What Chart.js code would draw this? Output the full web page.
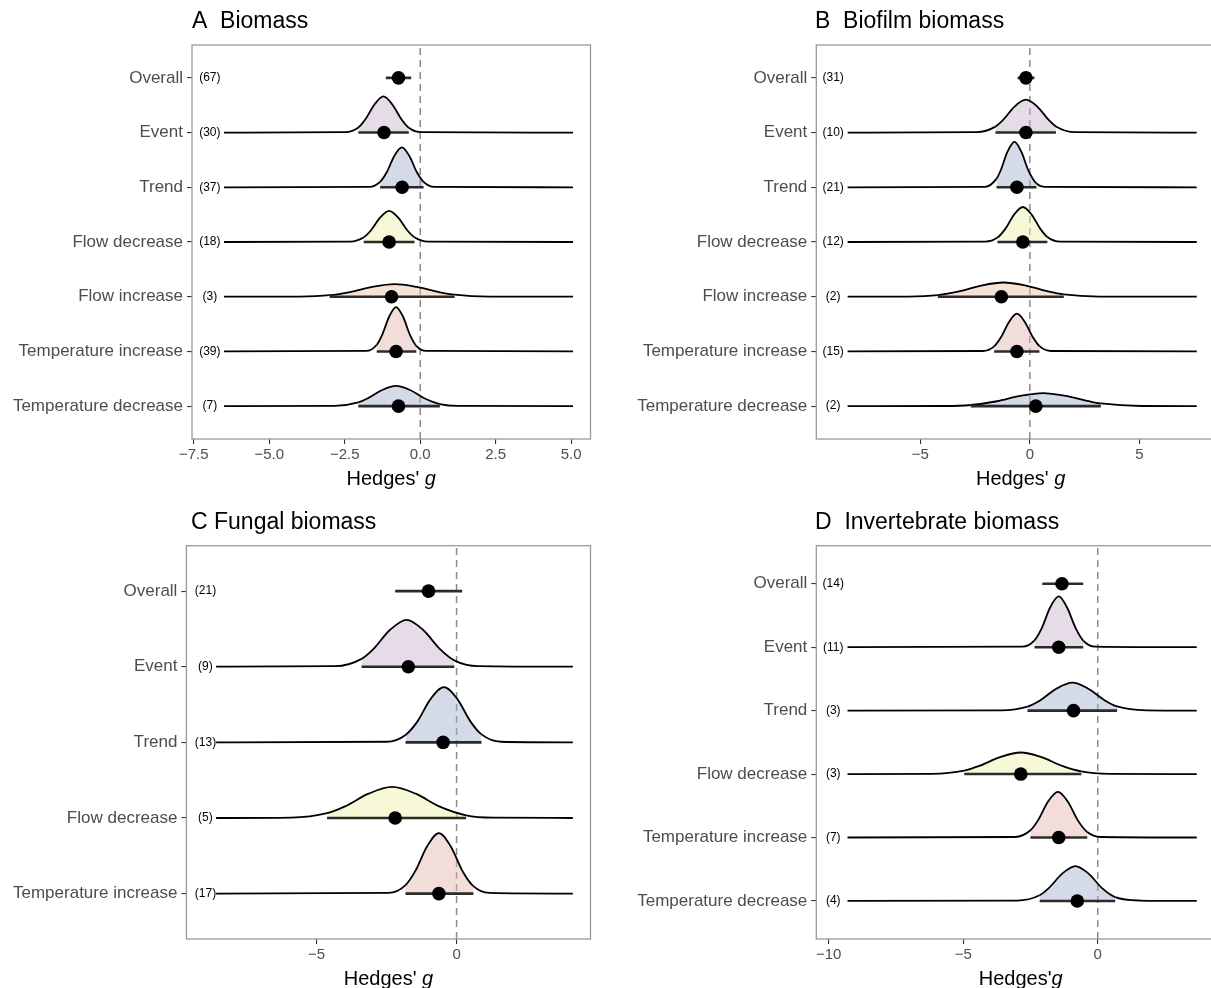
<!DOCTYPE html>
<html>
<head>
<meta charset="utf-8">
<script src="https://cdn.jsdelivr.net/npm/chart.js@4.4.1/dist/chart.umd.min.js"></script>
<style>
html, body { margin: 0; padding: 0; background: #fff; overflow: hidden; }
body { width: 1211px; height: 988px; position: relative; }
canvas { position: absolute; }
</style>
</head>
<body>
<canvas id="chartA" width="600" height="490" style="left:0px;top:0px"></canvas>
<canvas id="chartB" width="640" height="490" style="left:600px;top:0px"></canvas>
<canvas id="chartC" width="600" height="493" style="left:0px;top:495px"></canvas>
<canvas id="chartD" width="640" height="493" style="left:600px;top:495px"></canvas>
<script>
// ---- A Biomass ----
const catsA = ['Overall', 'Event', 'Trend', 'Flow decrease', 'Flow increase', 'Temperature increase', 'Temperature decrease'];
const countsA = [67, 30, 37, 18, 3, 39, 7];
const meanA = [-0.72, -1.2, -0.6, -1.03, -0.95, -0.8, -0.72];
const loA = [-1.14, -2.05, -1.33, -1.87, -3.0, -1.44, -2.05];
const hiA = [-0.3, -0.38, 0.11, -0.19, 1.14, -0.13, 0.65];
const densXA = [null,
  [-6.5, -2.48, -2.05, -1.81, -1.51, -1.22, -0.93, -0.63, -0.38, 0.04, 5.06],
  [-6.5, -1.69, -1.33, -1.11, -0.86, -0.61, -0.36, -0.11, 0.11, 0.47, 5.06],
  [-6.5, -2.32, -1.87, -1.63, -1.33, -1.03, -0.73, -0.43, -0.19, 0.26, 5.06],
  [-6.5, -4.0, -3.0, -2.32, -1.59, -0.85, -0.12, 0.62, 1.14, 2.3, 5.06],
  [-6.5, -1.79, -1.44, -1.26, -1.03, -0.8, -0.57, -0.34, -0.13, 0.19, 5.06],
  [-6.5, -2.84, -2.05, -1.75, -1.28, -0.8, -0.32, 0.15, 0.65, 1.24, 5.06]];
const densYA = [null,
  [0, .007, .092, .248, .517, .66, .517, .248, .089, .007, 0],
  [0, .008, .099, .274, .572, .73, .572, .274, .099, .008, 0],
  [0, .006, .085, .214, .446, .57, .446, .214, .085, .006, 0],
  [0, .003, .028, .086, .18, .23, .18, .086, .038, .003, 0],
  [0, .009, .123, .304, .634, .81, .634, .304, .103, .009, 0],
  [0, .004, .068, .139, .29, .37, .29, .139, .038, .004, 0]];
const ticksA = [-7.5, -5, -2.5, 0, 2.5, 5];

// ---- B Biofilm biomass ----
const catsB = ['Overall', 'Event', 'Trend', 'Flow decrease', 'Flow increase', 'Temperature increase', 'Temperature decrease'];
const countsB = [31, 10, 21, 12, 2, 15, 2];
const meanB = [-0.18, -0.18, -0.59, -0.32, -1.3, -0.59, 0.27];
const loB = [-0.56, -1.57, -1.52, -1.48, -4.2, -1.63, -2.7];
const hiB = [0.21, 1.19, 0.3, 0.8, 1.55, 0.44, 3.24];
const densXB = [null,
  [-8.32, -2.43, -1.57, -1.23, -0.71, -0.18, 0.35, 0.87, 1.19, 2.07, 7.62],
  [-8.32, -2.05, -1.52, -1.33, -1.02, -0.7, -0.39, -0.07, 0.3, 0.65, 7.62],
  [-8.32, -2.03, -1.48, -1.12, -0.72, -0.32, 0.08, 0.48, 0.8, 1.39, 7.62],
  [-8.32, -5.55, -4.2, -3.23, -2.22, -1.2, -0.19, 0.83, 1.55, 3.15, 7.62],
  [-8.32, -2.15, -1.63, -1.32, -0.95, -0.59, -0.23, 0.14, 0.44, 0.97, 7.62],
  [-8.32, -3.9, -2.7, -1.5, -0.45, 0.6, 1.65, 2.7, 3.24, 5.1, 7.62]];
const densYB = [null,
  [0, .007, .108, .225, .47, .6, .47, .225, .112, .007, 0],
  [0, .009, .158, .311, .65, .83, .65, .311, .07, .009, 0],
  [0, .007, .081, .24, .501, .64, .501, .24, .093, .007, 0],
  [0, .003, .03, .098, .204, .26, .204, .098, .043, .003, 0],
  [0, .008, .093, .259, .54, .69, .54, .259, .097, .008, 0],
  [0, .003, .021, .09, .188, .24, .188, .09, .05, .003, 0]];
const ticksB = [-5, 0, 5];

// ---- C Fungal biomass ----
const catsC = ['Overall', 'Event', 'Trend', 'Flow decrease', 'Temperature increase'];
const countsC = [21, 9, 13, 5, 17];
const meanC = [-1.0, -1.72, -0.48, -2.19, -0.63];
const loC = [-2.19, -3.39, -1.82, -4.62, -1.82];
const hiC = [0.2, -0.08, 0.89, 0.34, 0.6];
const densXC = [null,
  [-8.58, -4.33, -3.39, -2.97, -2.38, -1.78, -1.19, -0.59, -0.08, 0.77, 4.15],
  [-8.58, -2.49, -1.82, -1.4, -0.93, -0.45, 0.03, 0.5, 0.89, 1.59, 4.15],
  [-8.58, -5.9, -4.62, -3.98, -3.14, -2.3, -1.46, -0.62, 0.34, 1.3, 4.15],
  [-8.58, -2.43, -1.82, -1.47, -1.05, -0.63, -0.21, 0.21, 0.6, 1.17, 4.15]];
const densYC = [null,
  [0, .007, .104, .233, .485, .62, .485, .233, .084, .007, 0],
  [0, .008, .098, .274, .572, .73, .572, .274, .105, .008, 0],
  [0, .005, .064, .154, .321, .41, .321, .154, .036, .005, 0],
  [0, .009, .112, .3, .626, .8, .626, .3, .098, .009, 0]];
const ticksC = [-5, 0];

// ---- D Invertebrate biomass ----
const catsD = ['Overall', 'Event', 'Trend', 'Flow decrease', 'Temperature increase', 'Temperature decrease'];
const countsD = [14, 11, 3, 3, 7, 4];
const meanD = [-1.33, -1.45, -0.9, -2.86, -1.45, -0.76];
const loD = [-2.06, -2.35, -2.61, -4.96, -2.5, -2.16];
const hiD = [-0.54, -0.54, 0.72, -0.61, -0.39, 0.65];
const densXD = [null,
  [-9.3, -2.8, -2.35, -2.08, -1.77, -1.45, -1.14, -0.82, -0.54, -0.1, 3.68],
  [-9.3, -3.6, -2.61, -2.13, -1.54, -0.94, -0.35, 0.25, 0.72, 1.8, 3.68],
  [-9.3, -6.16, -4.96, -4.4, -3.63, -2.86, -2.09, -1.32, -0.61, 0.44, 3.68],
  [-9.3, -3.07, -2.5, -2.22, -1.85, -1.48, -1.11, -0.74, -0.39, 0.11, 3.68],
  [-9.3, -3.0, -2.16, -1.81, -1.32, -0.83, -0.34, 0.15, 0.65, 1.6, 3.68]];
const densYD = [null,
  [0, .009, .108, .3, .626, .8, .626, .3, .104, .009, 0],
  [0, .005, .064, .165, .345, .44, .345, .165, .066, .005, 0],
  [0, .004, .055, .128, .266, .34, .266, .128, .041, .004, 0],
  [0, .008, .114, .27, .564, .72, .564, .27, .086, .008, 0],
  [0, .006, .09, .206, .431, .55, .431, .206, .059, .006, 0]];
const ticksD = [-10, -5, 0];

const FONT = '"Liberation Sans", Arial, Helvetica, sans-serif';
const fillColours = {
  'Event': 'rgba(200,178,205,0.45)',
  'Trend': 'rgba(160,172,205,0.45)',
  'Flow decrease': 'rgba(235,240,168,0.45)',
  'Flow increase': 'rgba(240,190,160,0.45)',
  'Temperature increase': 'rgba(228,180,173,0.45)',
  'Temperature decrease': 'rgba(160,172,205,0.45)'
};

function fmt(v, dec) {
  return (v < 0 ? '\u2212' : '') + Math.abs(v).toFixed(dec);
}

function makePanel(id, p) {
  const n = p.cats.length;
  const rows = p.cats.map((c, i) => n - i);
  const datasets = [];

  // dashed line at zero
  datasets.push({
    data: [{x: 0, y: 0.4}, {x: 0, y: n + 0.6}],
    borderColor: '#8a8a8a', borderWidth: 1.5, borderDash: [7, 5],
    pointRadius: 0, fill: false, order: 10
  });

  p.cats.forEach((c, i) => {
    const row = rows[i], lo = p.lo[i], hi = p.hi[i], col = fillColours[c];
    if (p.densX[i]) {
      datasets.push({
        data: p.densX[i].map((x, k) => ({x: x, y: row + p.densY[i][k]})),
        borderColor: '#000', borderWidth: 1.8, pointRadius: 0,
        cubicInterpolationMode: 'monotone',
        backgroundColor: 'rgba(0,0,0,0)',
        fill: {value: row},
        segment: {
          backgroundColor: s => (s.p0.parsed.x >= lo - 1e-6 && s.p1.parsed.x <= hi + 1e-6) ? col : 'rgba(0,0,0,0)'
        },
        order: 2 + row / 100
      });
    }
    // interval bar
    datasets.push({
      data: [{x: lo, y: row}, {x: hi, y: row}],
      borderColor: '#2b2b2b', borderWidth: 2.6, pointRadius: 0, fill: false, order: 1
    });
  });

  // point estimates
  datasets.push({
    data: p.mean.map((m, i) => ({x: m, y: rows[i]})),
    showLine: false, pointRadius: 6.8, pointBackgroundColor: '#000',
    pointBorderWidth: 0, fill: false, order: 0
  });

  const decor = {
    id: 'decor' + id,
    afterDraw(chart) {
      const {ctx, chartArea: a, scales: {x, y}} = chart;
      ctx.save();
      ctx.strokeStyle = '#999';
      ctx.lineWidth = 1.3;
      ctx.strokeRect(a.left, a.top, a.right - a.left, a.bottom - a.top);

      ctx.fillStyle = '#000';
      ctx.font = '12px ' + FONT;
      ctx.textAlign = 'center';
      ctx.textBaseline = 'middle';
      p.counts.forEach((c, i) => {
        ctx.fillText('(' + c + ')', x.getPixelForValue(p.countX), y.getPixelForValue(rows[i]));
      });

      // panel title
      ctx.fillStyle = '#000';
      ctx.font = '23px ' + FONT;
      ctx.textAlign = 'left';
      ctx.fillText(p.title, p.titleX, p.titleY);

      // axis title with italic g
      const cx = (a.left + a.right) / 2, ty = a.bottom + 40;
      const part1 = p.xTitle, part2 = 'g';
      ctx.font = '20px ' + FONT;
      const w1 = ctx.measureText(part1).width;
      ctx.font = 'italic 20px ' + FONT;
      const w2 = ctx.measureText(part2).width;
      const start = cx - (w1 + w2) / 2;
      ctx.font = '20px ' + FONT;
      ctx.fillText(part1, start, ty);
      ctx.font = 'italic 20px ' + FONT;
      ctx.fillText(part2, start + w1, ty);
      ctx.restore();
    }
  };

  return new Chart(document.getElementById(id), {
    type: 'line',
    data: {datasets: datasets},
    options: {
      responsive: false, animation: false, devicePixelRatio: 1, events: [],
      layout: {padding: {top: p.areaTop, right: p.padRight, left: 0, bottom: 0}},
      plugins: {legend: {display: false}, tooltip: {enabled: false}, title: {display: false}},
      scales: {
        x: {
          type: 'linear', min: p.xMin, max: p.xMax,
          afterBuildTicks: ax => { ax.ticks = p.ticks.map(v => ({value: v})); },
          afterFit: ax => { ax.height = p.height - p.areaBottom; },
          grid: {drawOnChartArea: false, drawTicks: true, tickLength: 5, color: '#333', lineWidth: 1.1},
          border: {display: false},
          ticks: {autoSkip: false, maxRotation: 0, padding: 2, color: '#4d4d4d',
            font: {family: FONT, size: 15}, callback: v => fmt(v, p.dec)}
        },
        y: {
          type: 'linear', min: 0.4, max: n + 0.6,
          afterBuildTicks: ax => { ax.ticks = rows.map(v => ({value: v})); },
          afterFit: ax => { ax.width = p.areaLeft; },
          grid: {drawOnChartArea: false, drawTicks: true, tickLength: 5, color: '#333', lineWidth: 1.1},
          border: {display: false},
          ticks: {autoSkip: false, padding: 4, color: '#4d4d4d',
            font: {family: FONT, size: 17}, callback: v => p.cats[n - v]}
        }
      }
    },
    plugins: [decor]
  });
}

makePanel('chartA', {
  cats: catsA, counts: countsA, mean: meanA, lo: loA, hi: hiA, densX: densXA, densY: densYA, ticks: ticksA,
  dec: 1, xMin: -7.56, xMax: 5.64, countX: -6.97, height: 490, areaLeft: 192, areaTop: 45, areaBottom: 439,
  padRight: 9.5, title: 'A  Biomass', titleX: 192, titleY: 22, xTitle: "Hedges' "
});
makePanel('chartB', {
  cats: catsB, counts: countsB, mean: meanB, lo: loB, hi: hiB, densX: densXB, densY: densYB, ticks: ticksB,
  dec: 0, xMin: -9.75, xMax: 8.91, countX: -8.98, height: 490, areaLeft: 216.3, areaTop: 45, areaBottom: 439,
  padRight: 15, title: 'B  Biofilm biomass', titleX: 215, titleY: 22, xTitle: "Hedges' "
});
makePanel('chartC', {
  cats: catsC, counts: countsC, mean: meanC, lo: loC, hi: hiC, densX: densXC, densY: densYC, ticks: ticksC,
  dec: 0, xMin: -9.64, xMax: 4.78, countX: -8.96, height: 493, areaLeft: 186.4, areaTop: 50.7, areaBottom: 444,
  padRight: 9.5, title: 'C Fungal biomass', titleX: 191, titleY: 28, xTitle: "Hedges' "
});
makePanel('chartD', {
  cats: catsD, counts: countsD, mean: meanD, lo: loD, hi: hiD, densX: densXD, densY: densYD, ticks: ticksD,
  dec: 0, xMin: -10.46, xMax: 4.73, countX: -9.83, height: 493, areaLeft: 216.3, areaTop: 50.7, areaBottom: 444,
  padRight: 15, title: 'D  Invertebrate biomass', titleX: 215, titleY: 28, xTitle: "Hedges'"
});
</script>
</body>
</html>
